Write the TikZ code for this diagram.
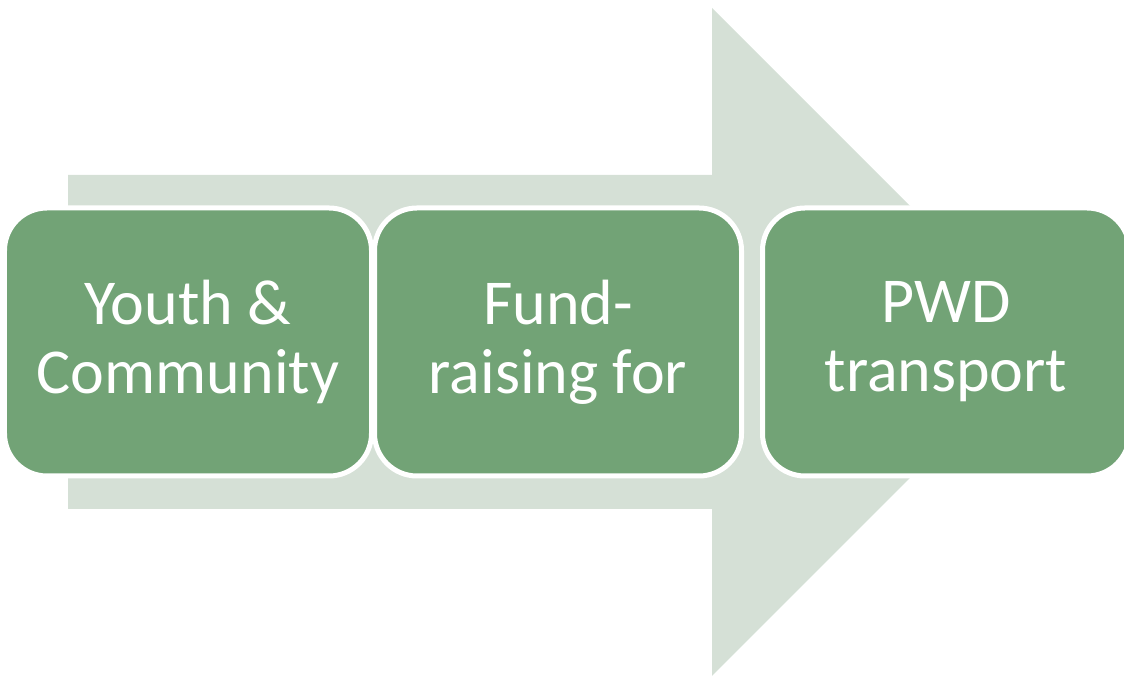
\documentclass[tikz,border=0pt]{standalone}
\usepackage{fontspec}
\setmainfont{Carlito}
\usepackage{tikz}
\usetikzlibrary{positioning}
\definecolor{boxgreen}{RGB}{114,163,118}
\definecolor{arrowgreen}{RGB}{213,224,214}

\begin{document}
\begin{tikzpicture}[
    stage/.style={rectangle, draw=white, line width=0.1cm, rounded corners=0.85cm, minimum width=7.34cm, minimum height=5.36cm, fill=boxgreen, text=white, align=center, font=\fontsize{36.4}{39.3}\selectfont}
]
    \useasboundingbox (0,0) rectangle (22.48,13.52);

    % Background arrow
    \fill[arrowgreen] (1.36,10.02) -- (14.24,10.02) -- (14.24,13.36) -- (20.92,6.68)
        -- (14.24,0) -- (14.24,3.34) -- (1.36,3.34) -- cycle;

    % Stages
    \node[stage] (youth) at (3.76,6.68) {Youth \&\\Community};
    \node[stage] (fund) at (11.16,6.68) {Fund-\\raising for};
    \node[stage] (pwd) at (18.92,6.68) {PWD\\transport};
\end{tikzpicture}
\end{document}
